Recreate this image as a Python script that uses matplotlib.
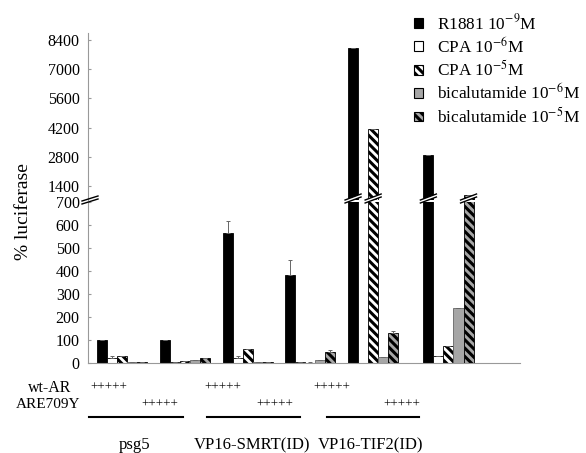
import numpy as np
import matplotlib
matplotlib.use("Agg")
import matplotlib.pyplot as plt
from matplotlib.patches import Patch, Polygon
from matplotlib.lines import Line2D
from matplotlib.transforms import blended_transform_factory

plt.rcParams['font.family'] = ['Liberation Serif', 'DejaVu Serif']
plt.rcParams['mathtext.fontset'] = 'stix'
plt.rcParams['hatch.linewidth'] = 2.2

# data (% luciferase)
groups = ['psg5 wt-AR', 'psg5 ARE709Y', 'SMRT wt-AR', 'SMRT ARE709Y',
          'TIF2 wt-AR', 'TIF2 ARE709Y']
labels = ['R1881 10$^{-9}$M', 'CPA 10$^{-6}$M', 'CPA 10$^{-5}$M',
          'bicalutamide 10$^{-6}$M', 'bicalutamide 10$^{-5}$M']
r1881 = [100, 100, 565, 383, 8000, 2900]
cpa_6 = [20, 3, 20, 3, 0, 30]
cpa_5 = [32, 8, 60, 2, 4150, 75]
bic_6 = [5, 15, 3, 15, 25, 240]
bic_5 = [5, 20, 3, 48, 130, 950]
err_r1881 = [0, 0, 52, 65, 0, 0]
err_cpa_6 = [10, 0, 10, 0, 0, 0]
err_cpa_5 = [0, 0, 0, 4, 0, 0]
err_bic_6 = [0, 0, 0, 0, 0, 0]
err_bic_5 = [0, 0, 0, 10, 10, 0]
low_ticks = [0, 100, 200, 300, 400, 500, 600, 700]
high_ticks = [1400, 2800, 4200, 5600, 7000, 8400]
group_names = ['psg5', 'VP16-SMRT(ID)', 'VP16-TIF2(ID)']

series = [r1881, cpa_6, cpa_5, bic_6, bic_5]
errors = [err_r1881, err_cpa_6, err_cpa_5, err_bic_6, err_bic_5]
styles = [dict(color='black', edgecolor='black'),
          dict(color='white', edgecolor='black'),
          dict(color='white', edgecolor='black', hatch='\\\\\\\\'),
          dict(color='#a6a6a6', edgecolor='#666666'),
          dict(color='#a6a6a6', edgecolor='black', hatch='\\\\\\\\')]

W, H = 586, 453


def fx(px):
    return px / W


def fy(py):
    return 1 - py / H


fig = plt.figure(figsize=(W / 100, H / 100), dpi=100)
ax_low = fig.add_axes([fx(88), fy(363), fx(520) - fx(88), fy(202) - fy(363)])
ax_high = fig.add_axes([fx(88), fy(200), fx(520) - fx(88), fy(33) - fy(200)])

pos = np.arange(len(groups), dtype=float)
pos[5] += 0.2
w = 0.16

for ax in (ax_low, ax_high):
    for i, (vals, errs, st) in enumerate(zip(series, errors, styles)):
        ax.bar(pos + i * w, vals, w, align='edge', linewidth=0.6, **st)
        ax.errorbar(pos + i * w + w / 2, vals, yerr=[np.zeros(len(vals)), errs],
                    fmt='none', ecolor='#666666', elinewidth=0.7, capsize=1.5,
                    capthick=0.7)
    ax.set_xlim(-0.143, 6.74)
    for s in ('top', 'right'):
        ax.spines[s].set_visible(False)
    ax.spines['left'].set_color('#999999')
    ax.set_xticks([])
    ax.tick_params(axis='y', direction='in', length=2, color='#999999',
                   labelsize=11.5, pad=6)

ax_low.set_ylim(0, 700)
ax_low.set_yticks(low_ticks)
ax_low.spines['bottom'].set_color('#999999')
ax_high.set_ylim(724, 8740)
ax_high.set_yticks(high_ticks)
ax_high.spines['bottom'].set_visible(False)

fig.text(fx(24), fy(212), '% luciferase', rotation=90, ha='center',
         va='center', fontsize=14)

# break marks on the axis and on the tall bars
tr = blended_transform_factory(ax_low.transData, fig.transFigure)
ux = 1 / 62.75
for i, vals in enumerate(series):
    for g, v in enumerate(vals):
        if v > 700:
            xc = pos[g] + i * w + w / 2
            x0, x1 = xc - 8 * ux, xc + 8 * ux
            poly = Polygon([(x0, fy(203)), (x1, fy(197)), (x1, fy(194)), (x0, fy(200))],
                           closed=True, facecolor='white', edgecolor='none',
                           transform=tr, clip_on=False, zorder=5)
            fig.add_artist(poly)
            for off in (0, -3):
                fig.add_artist(Line2D([x0, x1], [fy(203 + off), fy(197 + off)],
                                      color='black', lw=1, transform=tr, zorder=6))

for off in (0, -3):
    fig.add_artist(Line2D([fx(82), fx(98)], [fy(204 + off), fy(199 + off)],
                          color='black', lw=1))

handles = [Patch(facecolor=st['color'], edgecolor='black', hatch=st.get('hatch'),
                 linewidth=0.8) for st in styles]
fig.legend(handles, labels, loc='upper left', bbox_to_anchor=(fx(414), fy(13)),
           frameon=False, fontsize=12.4, handlelength=0.5, handleheight=0.5,
           handletextpad=0.85, labelspacing=0.2, borderaxespad=0, borderpad=0)

# row annotations below the axis
fig.text(fx(71), fy(388), 'wt-AR', ha='right', va='center', fontsize=11.5)
fig.text(fx(80), fy(405), 'ARE709Y', ha='right', va='center', fontsize=11)
for xl in (90, 204, 313):
    fig.text(fx(xl), fy(388), '+++++', ha='left', va='center', fontsize=9.5)
for xr in (178, 293, 420):
    fig.text(fx(xr), fy(405), '+++++', ha='right', va='center', fontsize=9.5)
for (a, b) in ((89, 183), (207, 300), (327, 419)):
    fig.add_artist(Line2D([fx(a), fx(b)], [fy(417), fy(417)], color='black', lw=1.5))
for name, xc in zip(group_names, (135, 252, 371)):
    fig.text(fx(xc), fy(445), name, ha='center', va='center', fontsize=12)

fig.savefig('out.png', dpi=100)
